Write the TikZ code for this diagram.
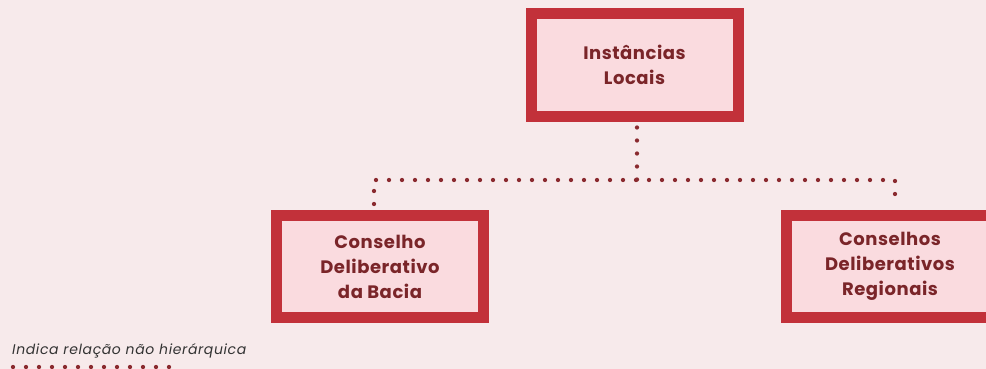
\documentclass[tikz,border=0pt]{standalone}
\usepackage{fontspec}
\setmainfont{Poppins}
\definecolor{bgc}{HTML}{F7EAEB}
\definecolor{boxred}{HTML}{C2313A}
\definecolor{boxfill}{HTML}{FADBDF}
\definecolor{txtred}{HTML}{7A2529}
\definecolor{dotred}{HTML}{8A2A2F}
\definecolor{legc}{HTML}{333333}
\tikzset{
  orgbox/.style={draw=boxred, fill=boxfill, line width=11pt, inner sep=0pt,
    minimum width=207pt, minimum height=102pt, align=center,
    text=txtred, font=\bfseries\fontsize{18}{25}\selectfont\addfontfeature{LetterSpace=3}},
  dotline/.style={draw=dotred, line width=4.3pt, line cap=round,
    dash pattern=on 0pt off 13pt},
  legtext/.style={anchor=west, inner sep=0pt, text=legc,
    font=\itshape\fontsize{14}{16}\selectfont\addfontfeature{LetterSpace=4.5}}
}
\begin{document}
\begin{tikzpicture}[x=1pt,y=-1pt]
\fill[bgc] (0,0) rectangle (986,369);
\useasboundingbox (0,0) rectangle (986,369);
\node[orgbox] (top) at (634.5,65) {Instâncias\\Locais};
\node[orgbox] (left) at (380,266.5) {Conselho\\Deliberativo\\da Bacia};
\node[orgbox] (right) at (890,266.5) {Conselhos\\Deliberativos\\Regionais};
\coordinate (bar) at (637,180);
\draw[dotline] ([xshift=2.5pt,yshift=-6pt]top.south) -- (bar);
\draw[dotline] ([xshift=-6pt,yshift=6pt]left.north) |- (bar) -| ([xshift=5pt,yshift=6pt]right.north);
\node[legtext] (leg) at (12,351) {Indica relação não hierárquica};
\coordinate (legA) at (13,367);
\coordinate (legB) at (175,367);
\draw[dotline] (legA) -- (legB);
\end{tikzpicture}
\end{document}
